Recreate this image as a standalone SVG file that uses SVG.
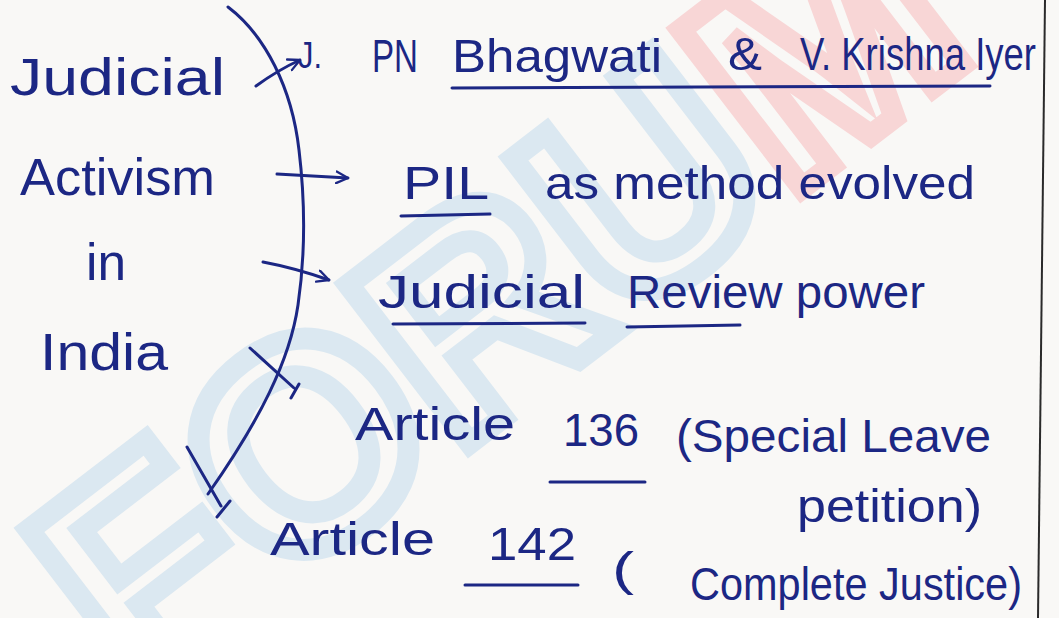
<svg xmlns="http://www.w3.org/2000/svg" width="1059" height="618" viewBox="0 0 1059 618">
  <style>
    .ink { fill: #1c2784; font-family: "Liberation Sans", "DejaVu Sans", sans-serif; }
    .big { font-size: 52px; }
    .mid { font-size: 46px; }
    .ln { stroke: #1c2784; stroke-width: 3; fill: none; stroke-linecap: round; stroke-linejoin: round; }
    .wm { font-family: "Liberation Sans", "DejaVu Sans", sans-serif; font-weight: bold; font-size: 290px; fill: none; stroke-width: 22; stroke-linejoin: miter; }
  </style>
  <defs>
    <marker id="arr" viewBox="0 0 12 12" refX="11" refY="6" markerWidth="14" markerHeight="14" markerUnits="userSpaceOnUse" orient="auto">
      <path d="M1,1 L11,6 L1,11" fill="none" stroke="#1c2784" stroke-width="2" stroke-linecap="round" stroke-linejoin="round"/>
    </marker>
  </defs>
  <rect width="1059" height="618" fill="#f9f8f6"/>

  <!-- watermark -->
  <g id="watermark">
    <text class="wm" transform="translate(135,700) rotate(-37.5)"><tspan stroke="#dbe8f1">FORU</tspan><tspan stroke="#f8d6d6">M</tspan></text>
  </g>

  <!-- page border -->
  <line x1="1045" y1="0" x2="1038" y2="618" stroke="#2a2a2a" stroke-width="2"/>

  <!-- central node -->
  <g id="node-main">
    <text class="ink big" x="10" y="95" textLength="215" lengthAdjust="spacingAndGlyphs">Judicial</text>
    <text class="ink big" x="20" y="195" textLength="195" lengthAdjust="spacingAndGlyphs">Activism</text>
    <text class="ink big" x="86" y="280" textLength="40" lengthAdjust="spacingAndGlyphs">in</text>
    <text class="ink big" x="40" y="370" textLength="128" lengthAdjust="spacingAndGlyphs">India</text>
  </g>

  <!-- connectors -->
  <g id="connectors">
    <path class="ln" d="M228,7 C265,35 292,88 299,150 C305,200 306,250 298,305 C290,360 260,420 208,494"/>
    <path class="ln" d="M256,86 Q278,70 300,60" marker-end="url(#arr)"/>
    <path class="ln" d="M277,174 L348,178" marker-end="url(#arr)"/>
    <path class="ln" d="M263,262 Q295,268 329,280" marker-end="url(#arr)"/>
    <path class="ln" d="M250,348 L294,388 M299,384 L291,398"/>
    <path class="ln" d="M187,447 L221,506 M230,501 L217,517"/>
  </g>

  <g id="node-1">
    <text class="ink" x="298" y="68" font-size="36" textLength="24" lengthAdjust="spacingAndGlyphs">J.</text>
    <text class="ink mid" x="372" y="72" textLength="46" lengthAdjust="spacingAndGlyphs">PN</text>
    <text class="ink mid" x="452" y="72" textLength="210" lengthAdjust="spacingAndGlyphs">Bhagwati</text>
    <text class="ink mid" x="728" y="70" textLength="34" lengthAdjust="spacingAndGlyphs">&amp;</text>
    <text class="ink mid" x="800" y="70" textLength="236" lengthAdjust="spacingAndGlyphs">V. Krishna Iyer</text>
    <path class="ln" d="M452,88 L990,86"/>
  </g>

  <g id="node-2">
    <text class="ink mid" x="403" y="199" textLength="86" lengthAdjust="spacingAndGlyphs">PIL</text>
    <text class="ink mid" x="545" y="199" textLength="430" lengthAdjust="spacingAndGlyphs">as method evolved</text>
    <path class="ln" d="M401,216 L490,214"/>
  </g>

  <g id="node-3">
    <text class="ink mid" x="378" y="308" textLength="207" lengthAdjust="spacingAndGlyphs">Judicial</text>
    <text class="ink mid" x="627" y="308" textLength="298" lengthAdjust="spacingAndGlyphs">Review power</text>
    <path class="ln" d="M393,324 L585,323"/>
    <path class="ln" d="M627,327 L740,325"/>
  </g>

  <g id="node-4">
    <text class="ink mid" x="355" y="440" textLength="160" lengthAdjust="spacingAndGlyphs">Article</text>
    <text class="ink mid" x="563" y="446" textLength="76" lengthAdjust="spacingAndGlyphs">136</text>
    <text class="ink mid" x="676" y="452" textLength="315" lengthAdjust="spacingAndGlyphs">(Special Leave</text>
    <text class="ink mid" x="797" y="522" textLength="185" lengthAdjust="spacingAndGlyphs">petition)</text>
    <path class="ln" d="M550,482 L645,482"/>
  </g>

  <g id="node-5">
    <text class="ink mid" x="270" y="555" textLength="165" lengthAdjust="spacingAndGlyphs">Article</text>
    <text class="ink mid" x="488" y="560" textLength="88" lengthAdjust="spacingAndGlyphs">142</text>
    <text class="ink mid" x="612" y="585" textLength="22" lengthAdjust="spacingAndGlyphs">(</text>
    <text class="ink mid" x="690" y="600" textLength="332" lengthAdjust="spacingAndGlyphs">Complete Justice)</text>
    <path class="ln" d="M465,585 L578,585"/>
  </g>
</svg>
